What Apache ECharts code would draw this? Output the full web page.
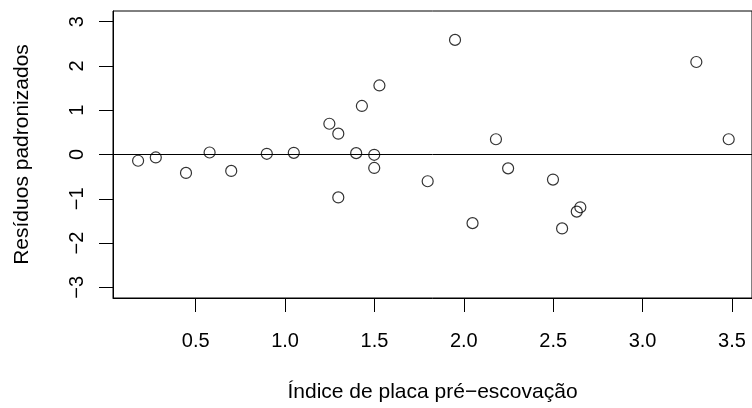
<!DOCTYPE html>
<html>
<head>
<meta charset="utf-8">
<script src="https://cdn.jsdelivr.net/npm/echarts@6/dist/echarts.min.js"></script>
<style>html,body{margin:0;padding:0;background:#fff;}#chart{width:752px;height:408px;}</style>
</head>
<body>
<div id="chart"></div>
<script>
const xValues = [0.178, 0.277, 0.446, 0.578, 0.699, 0.898, 1.049, 1.248, 1.298, 1.298, 1.430, 1.398, 1.499, 1.499, 1.528, 1.798, 1.951, 2.049, 2.180, 2.248, 2.499, 2.550, 2.632, 2.652, 3.301, 3.482];
const yValues = [-0.141, -0.067, -0.416, 0.045, -0.371, 0.016, 0.038, 0.694, 0.470, -0.969, 1.096, 0.031, -0.007, -0.304, 1.559, -0.604, 2.588, -1.550, 0.344, -0.313, -0.566, -1.669, -1.289, -1.192, 2.089, 0.344];
const xTicks = [0.5, 1.0, 1.5, 2.0, 2.5, 3.0, 3.5];
const yTicks = [-3, -2, -1, 0, 1, 2, 3];
const xTitle = 'Índice de placa pré\u2212escovação';
const yTitle = 'Resíduos padronizados';

const points = xValues.map((x, i) => [x, yValues[i]]);
const font = '"Liberation Sans", Arial, Helvetica, sans-serif';

const chart = echarts.init(document.getElementById('chart'), null, {renderer: 'canvas'});
chart.setOption({
  animation: false,
  backgroundColor: '#fff',
  grid: {left: 113, top: 11, width: 640.5, height: 289.7, show: true, borderColor: '#000', borderWidth: 1, backgroundColor: 'transparent'},
  xAxis: {
    type: 'value', min: 0.0376, max: 3.6124,
    splitLine: {show: false},
    axisLine: {show: true, onZero: false, lineStyle: {color: '#000', width: 1}},
    axisTick: {show: true, length: 14, inside: false, customValues: xTicks, lineStyle: {color: '#000', width: 1}},
    axisLabel: {customValues: xTicks, margin: 33, color: '#000', fontSize: 20, fontFamily: font,
      formatter: v => v.toFixed(1)},
    name: xTitle, nameLocation: 'middle', nameGap: 84,
    nameTextStyle: {color: '#000', fontSize: 21, fontFamily: font}
  },
  yAxis: {
    type: 'value', min: -3.24, max: 3.24,
    splitLine: {show: false},
    axisLine: {show: true, onZero: false, lineStyle: {color: '#000', width: 1}},
    axisTick: {show: true, length: 14, inside: false, customValues: yTicks, lineStyle: {color: '#000', width: 1}},
    axisLabel: {customValues: yTicks, rotate: 90, margin: 25.5, color: '#000', fontSize: 20, fontFamily: font,
      formatter: v => (v < 0 ? '\u2212' + Math.abs(v) : String(v))},
    name: yTitle, nameLocation: 'middle', nameGap: 80,
    nameTextStyle: {color: '#000', fontSize: 21, fontFamily: font}
  },
  series: [{
    type: 'scatter',
    data: points,
    symbol: 'circle',
    symbolSize: 11,
    itemStyle: {color: 'transparent', borderColor: '#000', borderWidth: 1.2},
    markLine: {
      silent: true, symbol: 'none', label: {show: false},
      lineStyle: {color: '#000', width: 1, type: 'solid'},
      data: [{yAxis: 0}]
    }
  }]
});
</script>
</body>
</html>
